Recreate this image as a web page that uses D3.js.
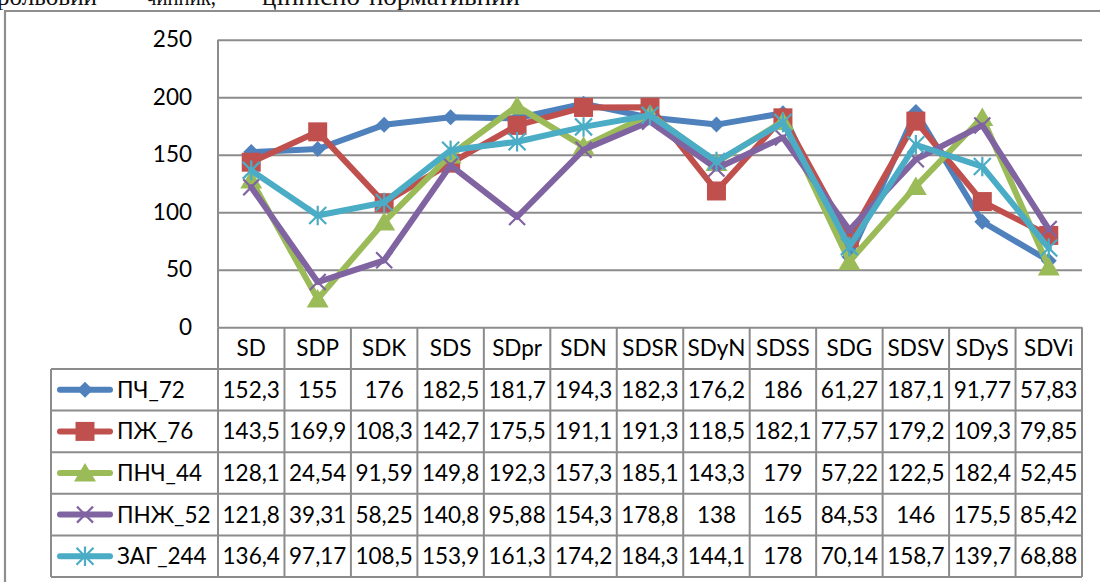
<!DOCTYPE html>
<html>
<head>
<meta charset="utf-8">
<script src="https://cdn.jsdelivr.net/npm/d3@7"></script>
<style>
  html, body { margin: 0; padding: 0; background: #fff; }
  svg { display: block; }
</style>
</head>
<body>
<svg id="chart" width="1100" height="582"></svg>
<script>
// ---------- data ----------
const categories = ["SD","SDP","SDK","SDS","SDpr","SDN","SDSR","SDyN","SDSS","SDG","SDSV","SDyS","SDVi"];
const seriesNames = ["ПЧ_72","ПЖ_76","ПНЧ_44","ПНЖ_52","ЗАГ_244"];
const pch72  = [152.3,155,176,182.5,181.7,194.3,182.3,176.2,186,61.27,187.1,91.77,57.83];
const pzh76  = [143.5,169.9,108.3,142.7,175.5,191.1,191.3,118.5,182.1,77.57,179.2,109.3,79.85];
const pnch44 = [128.1,24.54,91.59,149.8,192.3,157.3,185.1,143.3,179,57.22,122.5,182.4,52.45];
const pnzh52 = [121.8,39.31,58.25,140.8,95.88,154.3,178.8,138,165,84.53,146,175.5,85.42];
const zag244 = [136.4,97.17,108.5,153.9,161.3,174.2,184.3,144.1,178,70.14,158.7,139.7,68.88];
const yTicks = [0,50,100,150,200,250];
const topWords = ["рольовий","чинник,","ціннісно-нормативний"];

const seriesValues = [pch72, pzh76, pnch44, pnzh52, zag244];
const colors = ["#4F81BD","#C0504D","#9BBB59","#8064A2","#4BACC6"];
const markers = ["diamond","square","triangle","x","asterisk"];

// ---------- layout ----------
const svg = d3.select("#chart");
const plotL = 218, plotR = 1082, plotT = 39.7, plotB = 327.3;
const headerB = 369, rowH = 41.6;
const legendL = 51;
const fontFam = "Lato, 'Open Sans', sans-serif";
const fs = 22.5;
const gridColor = "#8c8c8c";

const x = d3.scaleBand().domain(categories).range([plotL, plotR]).padding(0);
const y = d3.scaleLinear().domain([0, 250]).range([plotB, plotT]);

// top cropped text and frame
const topText = svg.append("g").attr("font-family", "'Liberation Serif', 'DejaVu Serif', serif").attr("font-size", 25).attr("fill", "#111");
const topPos = [[-3, 100], [146, 70], [262, 258]];
topWords.forEach((w, i) => {
  topText.append("text").attr("x", topPos[i][0]).attr("y", 5)
    .attr("textLength", topPos[i][1]).attr("lengthAdjust", "spacingAndGlyphs").text(w);
});
svg.append("path").attr("d", "M5,582 L5,11 L1100,11").attr("fill", "none")
  .attr("stroke", "#8e8e8e").attr("stroke-width", 2.2);

// gridlines
const grid = svg.append("g").attr("transform", `translate(${plotL},0)`)
  .call(d3.axisLeft(y).tickValues(yTicks).tickSize(-(plotR - plotL)).tickFormat(""));
grid.select(".domain").remove();
grid.selectAll(".tick line").attr("stroke", gridColor).attr("stroke-width", 2);

// left plot border
svg.append("line").attr("x1", plotL).attr("x2", plotL).attr("y1", plotT).attr("y2", plotB)
  .attr("stroke", gridColor).attr("stroke-width", 2);

// y labels
const yl = svg.append("g").attr("transform", `translate(${plotL},0)`)
  .call(d3.axisLeft(y).tickValues(yTicks).tickSize(0).tickPadding(26).tickFormat(d3.format("d")));
yl.select(".domain").remove();
yl.selectAll("text").attr("font-family", fontFam).attr("font-size", fs).attr("fill", "#000");

// ---------- table ----------
const tableB = headerB + rowH * seriesNames.length;
const tg = svg.append("g");
const bounds = categories.map(c => x(c)).concat([plotR]);
// verticals in data part
bounds.forEach(bx => {
  tg.append("line").attr("x1", bx).attr("x2", bx).attr("y1", plotB).attr("y2", tableB)
    .attr("stroke", gridColor).attr("stroke-width", 2);
});
// legend column left
tg.append("line").attr("x1", legendL).attr("x2", legendL).attr("y1", headerB).attr("y2", tableB)
  .attr("stroke", gridColor).attr("stroke-width", 2);
// horizontal row lines
d3.range(seriesNames.length + 1).forEach(i => {
  const yy = headerB + i * rowH;
  tg.append("line").attr("x1", legendL).attr("x2", plotR).attr("y1", yy).attr("y2", yy)
    .attr("stroke", gridColor).attr("stroke-width", 2);
});
// header labels
tg.selectAll("text.hdr").data(categories).enter().append("text")
  .attr("x", d => x(d) + x.bandwidth() / 2).attr("y", (plotB + headerB) / 2 + 8)
  .attr("text-anchor", "middle").attr("font-family", fontFam).attr("font-size", fs)
  .text(d => d);

const fmt = v => String(v).replace(".", ",");

function markerPath(type, r) {
  switch (type) {
    case "diamond": return `M0,${-r}L${r},0L0,${r}L${-r},0Z`;
    case "square": return `M${-r},${-r}H${r}V${r}H${-r}Z`;
    case "triangle": return `M0,${-r}L${r * 1.1},${r * 0.85}L${-r * 1.1},${r * 0.85}Z`;
    case "x": return `M${-r},${-r}L${r},${r}M${-r},${r}L${r},${-r}`;
    case "asterisk": return `M${-r},${-r}L${r},${r}M${-r},${r}L${r},${-r}M0,${-r * 1.15}L0,${r * 1.15}`;
  }
}
const markerR = [8, 9.5, 10, 8, 8.5];
const filled = t => t === "diamond" || t === "square" || t === "triangle";

function drawMarker(g, i, cx, cy) {
  const t = markers[i];
  g.append("path").attr("transform", `translate(${cx},${cy})`)
    .attr("d", markerPath(t, markerR[i]))
    .attr("fill", filled(t) ? colors[i] : "none")
    .attr("stroke", colors[i])
    .attr("stroke-width", filled(t) ? 0 : 2.2);
}

// table rows
seriesNames.forEach((name, i) => {
  const cy = headerB + i * rowH + rowH / 2;
  tg.append("line").attr("x1", 60).attr("x2", 110).attr("y1", cy).attr("y2", cy)
    .attr("stroke", colors[i]).attr("stroke-width", 6).attr("stroke-linecap", "round");
  drawMarker(tg, i, 85, cy);
  tg.append("text").attr("x", 117).attr("y", cy + 8).attr("font-family", fontFam)
    .attr("font-size", fs).text(name);
  tg.selectAll(null).data(seriesValues[i]).enter().append("text")
    .attr("x", (d, j) => x(categories[j]) + x.bandwidth() / 2).attr("y", cy + 8)
    .attr("text-anchor", "middle").attr("font-family", fontFam).attr("font-size", fs)
    .text(d => fmt(d));
});

// ---------- lines ----------
const line = d3.line().x((d, j) => x(categories[j]) + x.bandwidth() / 2).y(d => y(d));
const lg = svg.append("g");
seriesValues.forEach((vals, i) => {
  const g = lg.append("g");
  g.append("path").datum(vals).attr("d", line).attr("fill", "none")
    .attr("stroke", colors[i]).attr("stroke-width", 6).attr("stroke-linejoin", "round")
    .attr("stroke-linecap", "round");
  vals.forEach((v, j) => drawMarker(g, i, x(categories[j]) + x.bandwidth() / 2, y(v)));
});
</script>
</body>
</html>
